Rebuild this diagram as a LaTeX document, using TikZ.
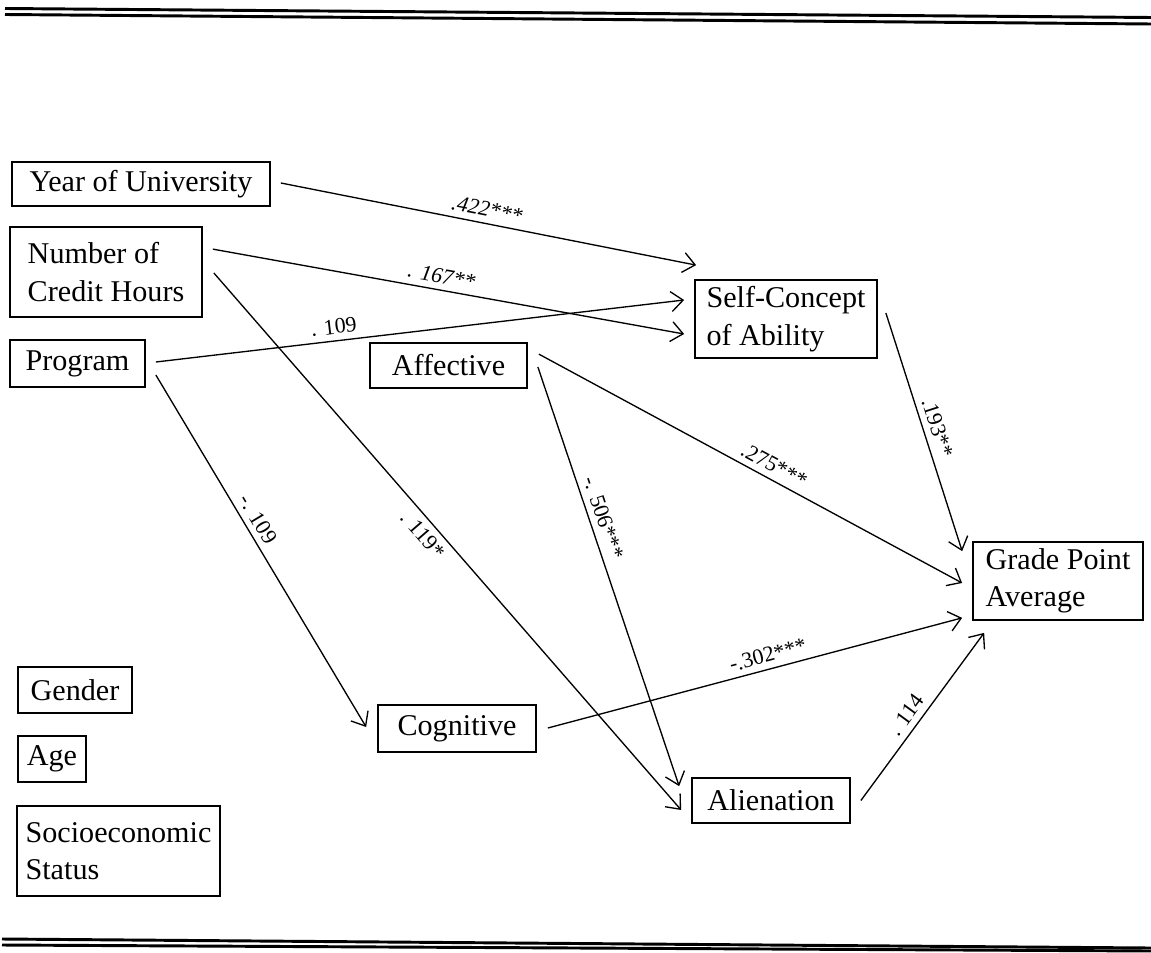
\documentclass[tikz,border=0pt]{standalone}
\usepackage{fontspec}
\setmainfont{Liberation Serif}
\usetikzlibrary{arrows.meta,calc}
\tikzset{
  box/.style={draw, line width=1.3pt, inner sep=0pt, align=left, font=\fontsize{22.6}{28}\selectfont},
  arr/.style={line width=1pt, -{Straight Barb[length=9pt,width=15pt,line width=1pt]}},
  lab/.style={font=\fontsize{16.5}{18}\selectfont, sloped, above, inner sep=4.5pt},
  rule/.style={line width=2.2pt}
}
\begin{document}
\begin{tikzpicture}[x=0.75pt,y=-0.75pt]
\useasboundingbox (0,0) rectangle (1151,952);
% rules
\draw[rule] (5,8.5) -- (1151,17.5);
\draw[rule] (5,14.5) -- (1151,24);
\draw[rule] (2,939) -- (1151,948);
\draw[rule] (2,945) -- (1151,951);
% nodes
\node[box, minimum width=193.5pt, minimum height=33pt] (year) at (141,184) {Year of University};
\node[box, minimum width=144pt, minimum height=67.5pt] (credit) at (106,272) {Number of\\Credit Hours};
\node[box, minimum width=101.25pt, minimum height=35.25pt] (program) at (77.5,363.5) {Program};
\node[box, minimum width=117.75pt, minimum height=33.75pt] (affective) at (448.5,365.5) {Affective};
\node[box, minimum width=136.5pt, minimum height=58.5pt] (self) at (786,319) {Self-Concept\\of Ability};
\node[box, minimum width=127.5pt, minimum height=58.5pt] (gpa) at (1058,581) {Grade Point\\Average};
\node[box, minimum width=118.5pt, minimum height=35.25pt] (cognitive) at (457,728.5) {Cognitive};
\node[box, minimum width=118.5pt, minimum height=33.75pt] (alienation) at (771,800.5) {Alienation};
\node[box, minimum width=85.5pt, minimum height=34.5pt] (gender) at (75,690) {Gender};
\node[box, minimum width=51pt, minimum height=34.5pt] (age) at (52,759) {Age};
\node[box, minimum width=152.25pt, minimum height=67.5pt] (ses) at (118.5,851) {Socioeconomic\\Status};
% connectors
\draw[arr] ($(year.east)+(10,-1)$) -- node[lab, pos=0.49]{\itshape .422***} ($(self.north west)+(2,-14)$);
\draw[arr] ($(credit.north east)+(10,23)$) -- node[lab, pos=0.48]{\itshape . 167**} ($(self.west)+(-10,15)$);
\draw[arr] ($(program.east)+(10,-1.5)$) -- node[lab, pos=0.34]{. 109} ($(self.west)+(-10,-19)$);
\draw[arr] ($(credit.east)+(11,1)$) -- node[lab, below, pos=0.47]{. 119*} ($(alienation.west)+(-10,9.5)$);
\draw[arr] ($(program.east)+(10,11.5)$) -- node[lab, pos=0.43]{-. 109} ($(cognitive.west)+(-11,-1.5)$);
\draw[arr] ($(affective.east)+(10,1.5)$) -- node[lab, pos=0.37]{-. 506***} ($(alienation.north west)+(-12,9)$);
\draw[arr] ($(affective.north east)+(11,12)$) -- node[lab, pos=0.54]{.275***} ($(gpa.west)+(-10,2)$);
\draw[arr] ($(self.east)+(8,-6)$) -- node[lab, pos=0.5]{.193**} ($(gpa.north west)+(-10,10)$);
\draw[arr] ($(cognitive.east)+(11,-0.5)$) -- node[lab, pos=0.54]{-.302***} ($(gpa.south west)+(-10,-3)$);
\draw[arr] ($(alienation.east)+(10,0)$) -- node[lab, pos=0.46]{. 114} ($(gpa.south west)+(12,12)$);
\end{tikzpicture}
\end{document}
